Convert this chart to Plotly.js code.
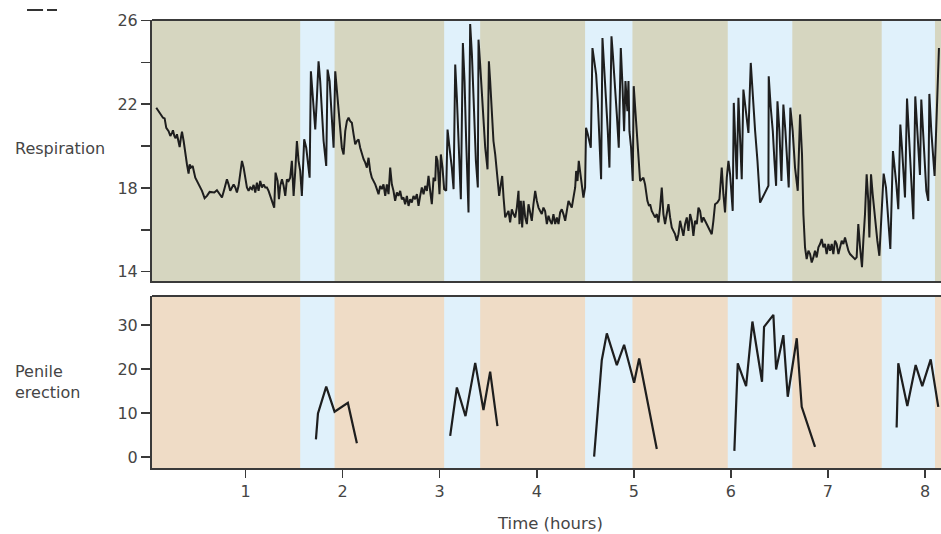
<!DOCTYPE html>
<html>
<head>
<meta charset="utf-8">
<script src="https://cdn.plot.ly/plotly-3.0.1.min.js"></script>
<style>html,body{margin:0;padding:0;background:#fff;}#chart{width:941px;height:534px;}</style>
</head>
<body>
<div id="chart"></div>
<script>
// Respiration (breaths/min) over time (hours)
const respTime = [
0.080,0.122,0.149,0.166,0.183,0.207,0.225,0.242,0.252,0.266,0.279,0.293,0.314,0.321,0.334,0.345,0.362,0.379,0.396,0.413,
0.424,0.437,0.455,0.482,0.516,0.551,0.578,0.602,0.630,0.654,0.678,0.705,0.733,0.757,0.781,0.808,0.825,0.842,0.860,0.877,
0.894,0.911,0.928,0.945,0.963,0.980,0.997,1.014,1.031,1.048,1.066,1.083,1.100,1.117,1.134,1.151,1.169,1.186,1.203,1.220,
1.237,1.254,1.272,1.295,1.309,1.330,1.344,1.357,1.375,1.392,1.409,
1.426,1.443,1.460,1.477,1.495,1.512,1.529,1.546,1.563,1.580,1.604,1.625,1.660,1.673,1.701,1.718,1.735,1.752,1.769,1.786,
1.804,1.831,1.845,1.866,1.889,1.907,1.924,1.941,1.969,1.992,2.010,2.027,2.044,2.061,2.078,2.095,2.113,2.130,2.147,2.164,
2.181,2.198,2.216,2.233,2.250,2.267,2.284,2.301,2.319,2.336,2.353,2.370,2.387,2.404,2.421,2.439,2.456,2.473,2.490,2.507,
2.524,2.541,2.559,2.576,2.593,2.610,2.627,2.644,2.662,2.679,2.696,2.713,2.730,2.747,
2.765,2.782,2.799,2.816,2.834,2.851,2.868,2.885,2.902,2.919,2.937,2.954,2.964,2.978,2.998,3.012,3.029,3.046,3.067,3.081,
3.101,3.125,3.143,3.160,3.177,3.194,3.218,3.239,3.256,3.273,3.297,3.314,3.332,3.349,3.373,3.393,3.400,3.417,3.445,3.469,
3.493,3.507,3.520,3.537,3.554,3.572,3.596,3.613,3.630,3.644,3.658,3.675,3.692,3.709,3.726,3.743,3.760,3.778,3.795,3.812,
3.822,3.836,3.850,3.864,3.881,3.898,3.915,3.932,3.949,3.966,3.984,4.001,4.018,4.035,4.052,4.069,4.086,
4.104,4.121,4.138,4.155,4.172,4.190,4.207,4.224,4.241,4.258,4.275,4.293,4.310,4.327,4.344,4.361,4.378,4.396,4.406,4.420,
4.433,4.447,4.464,4.481,4.498,4.508,4.526,4.543,4.557,4.574,4.595,4.612,4.629,4.646,4.663,4.677,4.694,4.711,4.732,4.749,
4.770,4.784,4.804,4.825,4.845,4.866,4.883,4.900,4.914,4.934,4.945,4.955,4.972,4.989,4.999,5.017,5.031,5.048,5.065,5.099,
5.116,5.140,5.157,5.168,5.185,5.202,5.219,5.237,5.254,5.271,5.288,5.305,5.322,5.339,5.357,5.374,5.391,5.408,5.425,
5.443,5.460,5.477,5.494,5.511,5.528,5.546,5.563,5.580,5.597,5.614,5.631,5.649,5.666,5.683,5.700,5.717,5.734,5.752,5.769,
5.786,5.803,5.820,5.837,5.861,5.882,5.896,5.906,5.923,5.940,5.958,5.975,5.992,6.009,6.019,6.030,6.047,6.061,6.078,6.095,
6.112,6.129,6.157,6.181,6.205,6.226,6.250,6.274,6.301,6.387,6.390,6.411,6.432,6.449,6.466,6.480,6.500,6.521,6.541,6.562,
6.579,6.596,6.613,6.637,6.661,6.689,6.713,6.733,6.747,6.764,
6.781,6.799,6.816,6.833,6.850,6.867,6.884,6.902,6.919,6.936,6.953,6.970,6.987,7.005,7.022,7.039,7.056,7.073,7.090,7.108,
7.125,7.142,7.159,7.176,7.193,7.211,7.228,7.245,7.262,7.279,7.296,7.313,7.331,7.351,7.365,7.382,7.399,7.416,7.427,7.444,
7.461,7.485,7.509,7.530,7.554,7.574,7.598,7.619,7.643,7.670,7.688,7.705,7.725,7.746,7.763,7.780,7.794,7.815,7.832,7.856,
7.880,7.900,7.917,7.935,7.948,7.962,7.979,7.997,8.014,8.034,8.045,8.065,8.082,8.099,8.144
];
const respValue = [
21.83,21.51,21.35,21.32,20.87,20.71,20.48,20.63,20.75,20.48,20.37,20.56,20.16,19.95,20.40,20.68,20.24,19.60,19.13,18.68,
19.13,18.97,19.05,18.49,18.17,17.86,17.51,17.62,17.81,17.78,17.78,17.89,17.70,17.54,17.94,18.41,18.17,17.86,18.02,18.17,
18.02,17.78,18.10,18.81,19.29,18.97,18.49,18.02,17.86,18.02,17.94,18.14,17.78,18.25,17.86,18.33,18.02,18.17,18.02,18.02,
17.86,17.62,17.38,17.06,18.73,18.33,17.46,18.10,18.41,18.10,17.62,
18.41,18.33,18.49,19.29,17.62,18.81,20.24,19.29,18.81,17.62,20.32,19.92,18.49,23.57,21.51,20.79,22.30,24.05,23.10,21.51,
20.24,19.05,23.65,23.10,21.51,19.92,23.57,22.62,21.03,19.92,19.60,20.71,21.19,21.35,21.19,21.11,20.56,20.08,20.24,20.32,
19.92,19.60,19.37,19.21,18.97,19.44,18.81,18.49,18.33,18.17,17.94,17.70,18.10,17.94,18.17,17.62,18.17,17.70,18.97,18.17,
17.86,17.38,17.78,17.62,17.86,17.46,17.54,17.22,17.62,17.14,17.46,17.30,17.62,17.46,
17.70,17.14,17.62,18.02,17.70,18.10,17.86,18.57,17.86,17.22,18.49,18.33,19.52,19.29,17.70,19.60,18.97,17.94,17.86,20.79,
19.92,18.97,17.94,23.89,22.30,20.24,17.46,24.92,23.10,20.24,16.83,25.83,24.37,22.30,19.29,18.02,25.08,23.89,21.51,19.92,
18.89,24.05,23.10,21.67,20.24,19.60,18.33,17.62,18.17,18.57,17.54,16.59,16.75,16.90,16.35,16.98,16.75,16.59,17.06,17.86,
16.27,17.38,16.11,17.38,16.59,16.27,17.22,16.75,16.43,17.22,17.86,17.38,17.06,16.90,16.75,17.06,16.90,
16.27,16.67,16.43,16.27,16.75,16.27,16.59,16.27,16.83,16.98,16.75,16.43,16.90,17.38,17.22,17.06,17.54,18.02,18.81,18.33,
19.29,18.81,18.17,17.54,18.02,20.87,20.56,20.24,19.92,24.68,24.05,23.41,22.14,20.24,18.41,25.16,23.89,22.30,20.71,18.97,
25.24,24.37,23.10,21.51,19.92,24.68,22.94,20.71,23.10,21.67,23.10,20.71,19.92,18.33,22.86,21.51,20.40,19.29,18.33,18.49,
18.17,17.38,17.14,17.22,16.90,16.75,16.59,16.75,16.35,17.06,18.02,16.75,16.27,16.75,17.22,16.59,16.11,15.95,15.79,
15.48,15.79,16.43,16.11,15.71,16.27,16.59,15.95,16.75,16.43,15.71,16.43,16.27,17.06,16.90,16.35,16.59,16.43,16.27,16.11,
15.95,15.79,16.43,17.22,17.30,17.46,18.33,18.97,17.70,16.83,18.49,19.29,18.65,17.54,16.90,22.06,19.92,18.41,22.30,19.92,
18.41,22.70,21.51,20.63,23.97,22.30,20.71,19.29,17.30,18.10,23.33,21.83,20.71,19.29,18.10,22.14,20.71,18.33,21.98,20.71,
19.29,18.02,21.83,20.71,18.97,17.86,21.51,19.60,16.75,15.16,
14.60,15.00,14.84,14.44,14.68,15.00,14.68,15.16,15.32,15.56,15.16,15.32,14.84,15.32,15.00,15.32,14.84,15.48,15.32,14.84,
15.16,15.48,15.32,15.63,15.32,15.00,14.84,14.76,14.68,14.60,14.68,16.27,15.16,14.21,15.48,16.75,18.65,17.38,15.63,18.65,
17.70,16.43,15.48,14.76,16.75,18.68,18.02,16.75,15.08,19.76,18.97,18.17,16.98,21.03,19.92,18.81,17.54,22.27,20.71,19.13,
16.51,22.37,20.87,19.76,18.62,22.22,20.87,19.13,17.86,17.38,22.49,20.71,19.60,18.57,24.68
];

// Penile erection (arbitrary units); null separates episodes
const erecTime  = [1.725,1.746,1.831,1.917,2.054,2.147,null,
                   3.108,3.177,3.266,3.366,3.451,3.520,3.595,null,
                   4.591,4.670,4.722,4.825,4.900,5.003,5.055,5.237,null,
                   6.036,6.071,6.157,6.222,6.321,6.342,6.438,6.466,6.541,6.586,6.679,6.730,6.867,null,
                   7.708,7.725,7.818,7.904,7.972,8.059,8.137];
const erecValue = [4.0,9.9,16.0,10.3,12.3,3.1,null,
                   4.8,15.8,9.3,21.4,10.7,19.4,7.0,null,
                   0.1,22.0,28.1,20.9,25.5,16.9,22.4,1.8,null,
                   1.4,21.3,16.1,30.8,17.1,29.6,32.3,19.9,27.7,13.7,27.0,11.4,2.3,null,
                   6.7,21.3,11.6,20.9,16.1,22.2,11.4];

// REM-sleep periods (hours)
const remStart = [1.563, 3.046, 4.498, 5.968, 7.554];
const remEnd   = [1.917, 3.417, 4.986, 6.633, 8.103];

const xTicks = [1,2,3,4,5,6,7,8];
const respTicks = [14,16,18,20,22,24,26];
const respTickText = ['14','','18','','22','','26'];
const erecTicks = [0,10,20,30];

const OLIVE = '#d6d6c0', BLUE = '#e0f1fb', PEACH = '#efdcc6';
const AX = '#3a3a3a', TXT = '#454545';
const FONT = 'DejaVu Sans, Liberation Sans, Arial, sans-serif';

const shapes = [];
// panel backgrounds
shapes.push({type:'rect', xref:'x2 domain', yref:'y2 domain', x0:0, x1:1, y0:0, y1:1, fillcolor:OLIVE, line:{width:0}, layer:'below'});
shapes.push({type:'rect', xref:'x domain', yref:'y domain', x0:0, x1:1, y0:0, y1:1, fillcolor:PEACH, line:{width:0}, layer:'below'});
remStart.forEach((s,i) => {
  shapes.push({type:'rect', xref:'x2', yref:'y2 domain', x0:s, x1:remEnd[i], y0:0, y1:1, fillcolor:BLUE, line:{width:0}, layer:'below'});
  shapes.push({type:'rect', xref:'x', yref:'y domain', x0:s, x1:remEnd[i], y0:0, y1:1, fillcolor:BLUE, line:{width:0}, layer:'below'});
});
// top borders of both panels
shapes.push({type:'line', xref:'x2 domain', yref:'y2 domain', x0:0, x1:1, y0:1, y1:1, line:{color:AX, width:2}});
shapes.push({type:'line', xref:'x domain', yref:'y domain', x0:0, x1:1, y0:1, y1:1, line:{color:AX, width:2}});
// small dashes at top-left corner
shapes.push({type:'line', xref:'paper', yref:'paper', x0:-0.1584, x1:-0.1381, y0:1.0223, y1:1.0223, line:{color:'#333', width:2}});
shapes.push({type:'line', xref:'paper', yref:'paper', x0:-0.1331, x1:-0.1204, y0:1.0223, y1:1.0223, line:{color:'#333', width:2}});

const traces = [
  {x: respTime, y: respValue, xaxis:'x2', yaxis:'y2', type:'scatter', mode:'lines',
   line:{color:'#1e1e1e', width:2}, hoverinfo:'skip'},
  {x: erecTime, y: erecValue, xaxis:'x', yaxis:'y', type:'scatter', mode:'lines',
   line:{color:'#1e1e1e', width:2.2}, connectgaps:false, hoverinfo:'skip'}
];

const xRange = [0.036, 8.165];
const layout = {
  width: 941, height: 534,
  margin: {l:152, r:0, t:20, b:66},
  paper_bgcolor:'#ffffff', plot_bgcolor:'rgba(0,0,0,0)',
  showlegend:false,
  font:{family:FONT, size:16, color:TXT},
  xaxis: {domain:[0,1], anchor:'y', range:xRange, tickvals:xTicks, ticktext:xTicks.map(String),
          ticks:'outside', ticklen:8, tickwidth:1.5, tickcolor:AX, showline:true, linecolor:AX, linewidth:2,
          showgrid:false, zeroline:false, tickfont:{family:FONT, size:16, color:TXT}},
  xaxis2:{domain:[0,1], anchor:'y2', range:xRange, matches:'x', showticklabels:false, ticks:'',
          showline:true, linecolor:AX, linewidth:2, showgrid:false, zeroline:false},
  yaxis: {domain:[0,0.3839], anchor:'x', range:[-2.5,36.6], tickvals:erecTicks, ticktext:erecTicks.map(String),
          ticks:'outside', ticklen:9, tickwidth:1.5, tickcolor:AX, showline:true, linecolor:AX, linewidth:2,
          showgrid:false, zeroline:false, tickfont:{family:FONT, size:16, color:TXT}},
  yaxis2:{domain:[0.4163,1], anchor:'x2', range:[13.53,26.02], tickvals:respTicks, ticktext:respTickText,
          ticks:'outside', ticklen:9, tickwidth:1.5, tickcolor:AX, showline:true, linecolor:AX, linewidth:2,
          showgrid:false, zeroline:false, tickfont:{family:FONT, size:16, color:TXT}},
  shapes: shapes,
  annotations: [
    {text:'Respiration', xref:'paper', yref:'paper', x:-0.1762, y:0.714, xanchor:'left', yanchor:'middle',
     showarrow:false, font:{family:FONT, size:16, color:TXT}},
    {text:'Penile<br>erection', xref:'paper', yref:'paper', x:-0.1762, y:0.192, xanchor:'left', yanchor:'middle',
     align:'left', showarrow:false, font:{family:FONT, size:16, color:TXT}},
    {text:'Time (hours)', xref:'paper', yref:'paper', x:0.504, y:-0.1228, xanchor:'center', yanchor:'middle',
     showarrow:false, font:{family:FONT, size:16.5, color:TXT}}
  ]
};

Plotly.newPlot('chart', traces, layout, {displayModeBar:false, staticPlot:true});
</script>
</body>
</html>
